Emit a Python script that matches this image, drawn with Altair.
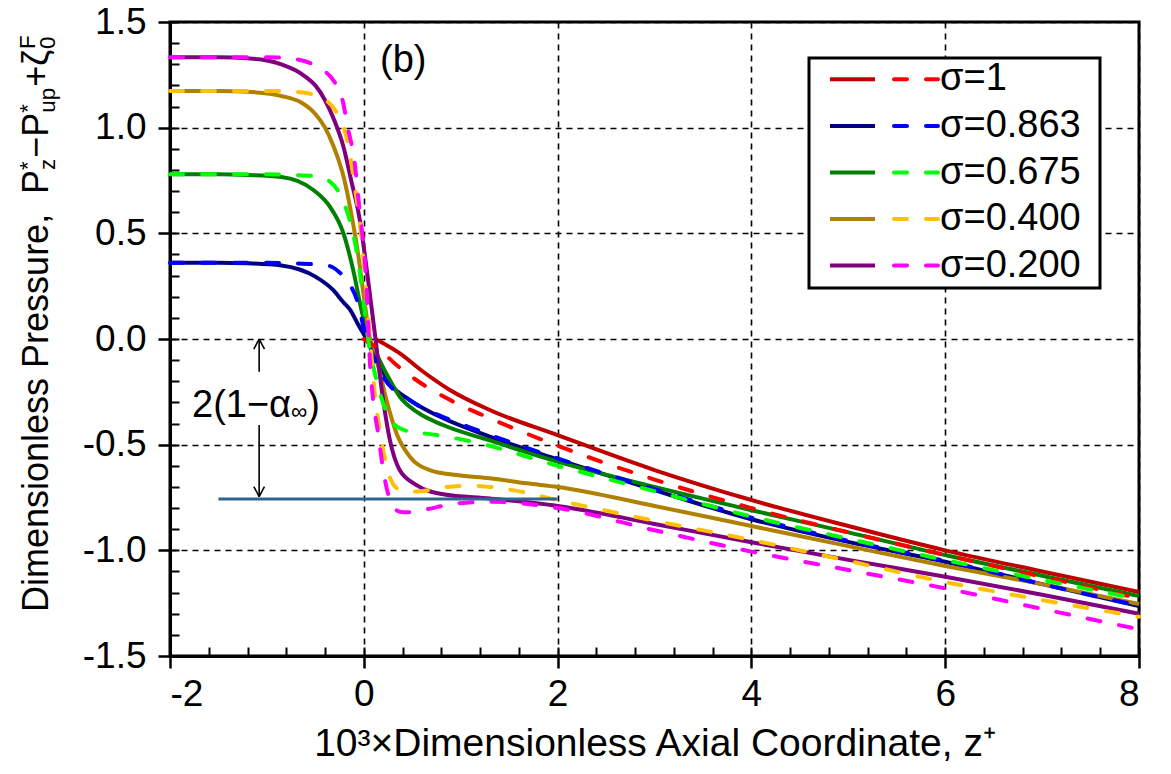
import altair as alt
import pandas as pd

# ---------------- data ----------------
sigma_labels = ["σ=1", "σ=0.863", "σ=0.675", "σ=0.400", "σ=0.200"]
solid_colors = ["#C00000", "#000080", "#008000", "#B08000", "#800080"]
dash_colors = ["#FF0000", "#0000FF", "#00FF00", "#FFC000", "#FF00FF"]

# sigma = 1
z_solid_1 = [0.12, 0.372, 0.613, 0.888, 1.3, 2.0, 3.0, 4.0, 5.0, 6.0, 7.0, 8.0]
p_solid_1 = [0.0, -0.068, -0.155, -0.241, -0.336, -0.455, -0.62, -0.762, -0.885, -1.0, -1.1, -1.197]
z_dash_1 = [0.0, 0.165, 0.337, 0.647, 0.957, 1.266, 2.0, 3.0, 4.0, 5.0, 6.0, 7.0, 8.0]
p_dash_1 = [0.0, -0.052, -0.123, -0.226, -0.304, -0.368, -0.505, -0.665, -0.80, -0.915, -1.022, -1.125, -1.227]

# sigma = 0.863
z_solid_2 = [-2.0, -1.5, -1.2, -0.85, -0.5, -0.317, -0.213, -0.144, -0.06, 0.01, 0.131, 0.268, 0.475, 0.75, 1.3,
             2.0, 3.0, 4.0, 5.0, 6.0, 7.0, 8.0]
p_solid_2 = [0.361, 0.361, 0.358, 0.348, 0.295, 0.232, 0.175, 0.14, 0.07, 0.015, -0.099, -0.21, -0.289, -0.36, -0.462,
             -0.57, -0.715, -0.853, -0.96, -1.054, -1.16, -1.264]
z_dash_2 = [-2.0, -1.0, -0.73, -0.5, -0.35, -0.25, -0.15, -0.05, 0.0, 0.062, 0.2, 0.475, 0.853, 1.163,
            2.0, 3.0, 4.0, 5.0, 6.0, 7.0, 8.0]
p_dash_2 = [0.361, 0.361, 0.358, 0.353, 0.345, 0.315, 0.263, 0.153, 0.05, -0.036, -0.178, -0.289, -0.375, -0.43,
            -0.565, -0.71, -0.845, -0.955, -1.05, -1.16, -1.262]

# sigma = 0.675
z_solid_3 = [-2.0, -1.5, -1.2, -0.85, -0.52, -0.35, -0.21, -0.11, -0.024, 0.04, 0.13, 0.234, 0.372, 0.544, 0.818,
             1.3, 2.0, 3.0, 4.0, 5.0, 6.0, 7.0, 8.0]
p_solid_3 = [0.779, 0.779, 0.776, 0.767, 0.705, 0.626, 0.5, 0.327, 0.137, 0.02, -0.07, -0.165, -0.273, -0.344, -0.407,
             -0.48, -0.58, -0.70, -0.81, -0.915, -1.022, -1.12, -1.216]
z_dash_3 = [-2.0, -1.0, -0.73, -0.5, -0.35, -0.23, -0.127, -0.059, 0.0, 0.062, 0.114, 0.2, 0.303, 0.44, 0.75, 1.163,
            2.0, 3.0, 4.0, 5.0, 6.0, 7.0, 8.0]
p_dash_3 = [0.779, 0.779, 0.776, 0.77, 0.745, 0.67, 0.53, 0.374, 0.169, -0.052, -0.162, -0.304, -0.399, -0.434, -0.454,
            -0.49, -0.60, -0.72, -0.84, -0.945, -1.046, -1.14, -1.23]

# sigma = 0.400
z_solid_4 = [-2.0, -1.5, -1.2, -0.85, -0.65, -0.5, -0.4, -0.32, -0.2, -0.13, -0.06, 0.01, 0.06, 0.15, 0.234, 0.337,
             0.475, 0.68, 0.96, 1.3, 1.68, 2.0, 3.0, 4.0, 5.0, 6.0, 7.0, 8.0]
p_solid_4 = [1.174, 1.174, 1.17, 1.15, 1.12, 1.065, 1.0, 0.92, 0.752, 0.595, 0.406, 0.169, 0.01, -0.13, -0.289,
             -0.446, -0.557, -0.62, -0.644, -0.659, -0.683, -0.70, -0.79, -0.885, -0.98, -1.074, -1.16, -1.254]
z_dash_4 = [-2.0, -1.0, -0.73, -0.55, -0.42, -0.3, -0.21, -0.144, -0.093, -0.041, 0.0, 0.04, 0.08, 0.114, 0.165,
            0.234, 0.337, 0.44, 0.6, 0.75, 1.1, 1.3, 1.54, 2.0, 3.0, 4.0, 5.0, 6.0, 7.0, 8.0]
p_dash_4 = [1.174, 1.174, 1.17, 1.16, 1.139, 1.085, 1.005, 0.879, 0.721, 0.55, 0.36, 0.14, -0.08, -0.26, -0.43,
            -0.60, -0.705, -0.723, -0.72, -0.707, -0.694, -0.70, -0.715, -0.763, -0.86, -0.951, -1.05, -1.15, -1.235,
            -1.314]

# sigma = 0.200
z_solid_5 = [-2.0, -1.5, -1.2, -1.0, -0.85, -0.7, -0.6, -0.5, -0.4, -0.3, -0.21, -0.13, -0.04, 0.03, 0.11, 0.2,
             0.27, 0.37, 0.54, 0.82, 1.3, 2.0, 3.0, 4.0, 5.0, 6.0, 7.0, 8.0]
p_solid_5 = [1.333, 1.333, 1.328, 1.318, 1.30, 1.27, 1.24, 1.2, 1.13, 1.03, 0.91, 0.75, 0.56, 0.33, 0.04, -0.29,
             -0.48, -0.62, -0.69, -0.735, -0.755, -0.79, -0.875, -0.962, -1.045, -1.125, -1.21, -1.30]
z_dash_5 = [-2.0, -1.0, -0.73, -0.55, -0.42, -0.3, -0.23, -0.16, -0.093, -0.058, -0.024, 0.01, 0.034, 0.062, 0.096,
            0.148, 0.2, 0.286, 0.37, 0.45, 0.61, 0.96, 1.3, 2.0, 3.0, 4.0, 5.0, 6.0, 7.0, 8.0]
p_dash_5 = [1.333, 1.333, 1.326, 1.305, 1.273, 1.215, 1.15, 0.99, 0.83, 0.673, 0.531, 0.374, 0.185, -0.099, -0.289,
            -0.446, -0.62, -0.778, -0.817, -0.82, -0.809, -0.778, -0.77, -0.80, -0.905, -1.006, -1.093, -1.18, -1.277,
            -1.374]

# annotation: 2(1-alpha_inf) reference line and arrows
ref_line_z = [-1.5, 2.0]
ref_line_p = -0.757
arrow_z = -1.08

# axis ticks
x_major = [-2, 0, 2, 4, 6, 8]
x_minor = [round(-2 + 0.4 * k, 1) for k in range(26)]
y_major = [-1.5, -1.0, -0.5, 0.0, 0.5, 1.0, 1.5]
y_minor = [round(-1.5 + 0.1 * k, 1) for k in range(31)]

FONT = "Liberation Sans"
FS = 38          # annotation / legend text
XTFS = 39        # x-axis title
YTFS = 36        # y-axis title
TICK_FS = 37
W, H = 969, 634

# ---------------- build tables ----------------
solid_series = [(z_solid_1, p_solid_1), (z_solid_2, p_solid_2), (z_solid_3, p_solid_3),
                (z_solid_4, p_solid_4), (z_solid_5, p_solid_5)]
dash_series = [(z_dash_1, p_dash_1), (z_dash_2, p_dash_2), (z_dash_3, p_dash_3),
               (z_dash_4, p_dash_4), (z_dash_5, p_dash_5)]
solid_keys = ["solid " + s for s in sigma_labels]
dash_keys = ["dash " + s for s in sigma_labels]


def rows(zs, ps, key):
    return [{"z": z, "p": p, "key": key, "i": i} for i, (z, p) in enumerate(zip(zs, ps))]


solid_df = pd.DataFrame([r for (zs, ps), k in zip(solid_series, solid_keys) for r in rows(zs, ps, k)])
dash_df = pd.DataFrame([r for (zs, ps), k in zip(dash_series, dash_keys) for r in rows(zs, ps, k)])

color_scale = alt.Scale(domain=solid_keys + dash_keys, range=solid_colors + dash_colors)
xscale = alt.Scale(domain=[-2, 8], nice=False, zero=False)
yscale = alt.Scale(domain=[-1.5, 1.5], nice=False, zero=False)

x_axis = alt.Axis(
    values=x_major, orient="bottom",
    labelExpr="(datum.value < 0 ? '-' : '') + format(abs(datum.value), 'd')",
    title="10³×Dimensionless Axial Coordinate, z⁺",
    tickSize=12, tickWidth=2.5, tickColor="black",
    domainColor="black", domainWidth=3,
    grid=True, gridColor="black", gridDash=[6, 5], gridWidth=1.6, gridOpacity=1,
    labelFont=FONT, labelFontSize=TICK_FS, labelColor="black", labelPadding=8,
    titleFont=FONT, titleFontSize=XTFS, titleColor="black", titleFontWeight="normal", titlePadding=12,
)
y_axis = alt.Axis(
    values=y_major, orient="left",
    labelExpr="(datum.value < 0 ? '-' : '') + format(abs(datum.value), '.1f')",
    title=None,
    tickSize=12, tickWidth=2.5, tickColor="black",
    domainColor="black", domainWidth=3,
    grid=True, gridColor="black", gridDash=[6, 5], gridWidth=1.6, gridOpacity=1,
    labelFont=FONT, labelFontSize=TICK_FS, labelColor="black", labelPadding=12,
)
x_inner = alt.Axis(values=x_minor, orient="bottom", offset=-9, tickSize=9, tickWidth=2, tickColor="black",
                   domain=False, labels=False, grid=False, title=None)
y_inner = alt.Axis(values=y_minor, orient="left", offset=-9, tickSize=9, tickWidth=2, tickColor="black",
                   domain=False, labels=False, grid=False, title=None)

solid = alt.Chart(solid_df).mark_line(interpolate="monotone", strokeWidth=4).encode(
    x=alt.X("z:Q", scale=xscale, axis=x_axis),
    y=alt.Y("p:Q", scale=yscale, axis=y_axis),
    color=alt.Color("key:N", scale=color_scale, legend=None),
    order=alt.Order("i:Q"),
)
dashed = alt.Chart(dash_df).mark_line(interpolate="monotone", strokeWidth=4, strokeDash=[13, 19],
                                      strokeCap="round").encode(
    x=alt.X("z:Q", scale=xscale, axis=None),
    y=alt.Y("p:Q", scale=yscale, axis=None),
    color=alt.Color("key:N", scale=color_scale, legend=None),
    order=alt.Order("i:Q"),
)

tick_df = pd.DataFrame({"z": [-2, 8], "p": [-1.5, 1.5]})
inner_ticks = alt.Chart(tick_df).mark_point(opacity=0).encode(
    x=alt.X("z:Q", scale=xscale, axis=x_inner),
    y=alt.Y("p:Q", scale=yscale, axis=y_inner),
)

# reference line
ref_df = pd.DataFrame({"x1": [ref_line_z[0]], "x2": [ref_line_z[1]], "y1": [ref_line_p]})
ref_rule = alt.Chart(ref_df).mark_rule(color="#2F6593", strokeWidth=3).encode(
    x=alt.X("x1:Q", scale=xscale, axis=None), x2="x2:Q",
    y=alt.Y("y1:Q", scale=yscale, axis=None),
)

# arrows (shaft + open head)
hw, hh = 0.055, 0.048
arr_df = pd.DataFrame({
    "x1": [arrow_z, arrow_z, arrow_z, arrow_z, arrow_z, arrow_z],
    "x2": [arrow_z, arrow_z - hw, arrow_z + hw, arrow_z, arrow_z - hw, arrow_z + hw],
    "y1": [-0.155, 0.0, 0.0, -0.407, ref_line_p + 0.011, ref_line_p + 0.011],
    "y2": [0.0, -hh, -hh, ref_line_p + 0.011, ref_line_p + 0.011 + hh, ref_line_p + 0.011 + hh],
})
arrows = alt.Chart(arr_df).mark_rule(color="black", strokeWidth=1.6).encode(
    x=alt.X("x1:Q", scale=xscale, axis=None), x2="x2:Q",
    y=alt.Y("y1:Q", scale=yscale, axis=None), y2="y2:Q",
)

# text pieces (pixel positions relative to plot area)
aw = {"D": .722, "i": .222, "m": .833, "e": .556, "n": .556, "s": .5, "o": .556, "l": .222, " ": .278,
      "P": .667, "r": .333, "u": .556, ",": .278, "−": .584, "+": .584, "*": .389, "z": .5, "p": .556,
      "ζ": .47, "F": .611, "0": .556, "2": .556, "(": .333, "1": .556, "α": .578, "∞": .713, ")": .333}


def tw(s, size):
    return sum(aw.get(c, .556) for c in s) * size


# y-axis title, rotated, reading upward
YF = YTFS
sub = 0.62 * YF
pieces = []  # (text, size, along-offset, baseline shift)
s = 0.0
pieces.append(("Dimensionless Pressure,", YF, s, 0)); s += tw("Dimensionless Pressure,", YF) + tw("  ", YF)
pieces.append(("P", YF, s, 0)); s += tw("P", YF)
pieces.append(("*", sub, s, -0.36 * YF)); pieces.append(("z", sub, s, 0.2 * YF)); s += tw("z", sub) + 1
pieces.append(("−", YF, s, 0)); s += tw("−", YF)
pieces.append(("P", YF, s, 0)); s += tw("P", YF)
pieces.append(("*", sub, s, -0.36 * YF)); pieces.append(("up", sub, s, 0.2 * YF)); s += tw("up", sub) + 1
pieces.append(("+", YF, s, 0)); s += tw("+", YF)
pieces.append(("ζ", YF, s, 0)); s += tw("ζ", YF)
pieces.append(("F", sub, s, -0.36 * YF)); pieces.append(("0", sub, s, 0.2 * YF)); s += tw("F", sub)
start_y = 590
base_x = -122
ytitle_df = pd.DataFrame({
    "t": [p[0] for p in pieces],
    "fs": [p[1] for p in pieces],
    "px": [base_x + p[3] for p in pieces],
    "py": [start_y - p[2] for p in pieces],
})
ytitle = alt.Chart(ytitle_df).mark_text(align="left", baseline="alphabetic", angle=270, font=FONT,
                                        color="black").encode(
    x=alt.X("px:Q", scale=None, axis=None), y=alt.Y("py:Q", scale=None, axis=None),
    text="t:N", size=alt.Size("fs:Q", scale=None, legend=None),
)

# 2(1-alpha_inf) label and (b)
lx, ly = 22, 395
ann_df = pd.DataFrame({
    "t": ["2(1−α", "∞", ")", "(b)"],
    "fs": [FS, 0.6 * FS, FS, FS],
    "px": [lx, lx + tw("2(1−α", FS), lx + tw("2(1−α", FS) + tw("∞", 0.6 * FS), 210],
    "py": [ly, ly + 2, ly, 50],
})
ann = alt.Chart(ann_df).mark_text(align="left", baseline="alphabetic", font=FONT, color="black").encode(
    x=alt.X("px:Q", scale=None, axis=None), y=alt.Y("py:Q", scale=None, axis=None),
    text="t:N", size=alt.Size("fs:Q", scale=None, legend=None),
)

# legend box
box_df = pd.DataFrame({"x1": [639], "x2": [930], "y1": [36], "y2": [266]})
box = alt.Chart(box_df).mark_rect(fill="white", stroke="black", strokeWidth=3).encode(
    x=alt.X("x1:Q", scale=None, axis=None), x2="x2:Q",
    y=alt.Y("y1:Q", scale=None, axis=None), y2="y2:Q",
)
row_y = [57.3, 104, 150.5, 197, 243.5]
leg_solid_df = pd.DataFrame({"x1": [660] * 5, "x2": [705] * 5, "y1": row_y, "c": solid_colors})
leg_dash_df = pd.DataFrame({"x1": [724] * 5, "x2": [768] * 5, "y1": row_y, "c": dash_colors})
leg_solid = alt.Chart(leg_solid_df).mark_rule(strokeWidth=4).encode(
    x=alt.X("x1:Q", scale=None, axis=None), x2="x2:Q",
    y=alt.Y("y1:Q", scale=None, axis=None),
    color=alt.Color("c:N", scale=None, legend=None),
)
leg_dash = alt.Chart(leg_dash_df).mark_rule(strokeWidth=4, strokeDash=[13, 19], strokeCap="round").encode(
    x=alt.X("x1:Q", scale=None, axis=None), x2="x2:Q",
    y=alt.Y("y1:Q", scale=None, axis=None),
    color=alt.Color("c:N", scale=None, legend=None),
)
leg_text_df = pd.DataFrame({"t": sigma_labels, "px": [770] * 5, "py": row_y})
leg_text = alt.Chart(leg_text_df).mark_text(align="left", baseline="middle", font=FONT, fontSize=FS,
                                            color="black").encode(
    x=alt.X("px:Q", scale=None, axis=None), y=alt.Y("py:Q", scale=None, axis=None), text="t:N",
)

chart = alt.layer(
    solid, inner_ticks, dashed, ref_rule, arrows, ann, ytitle, box, leg_solid, leg_dash, leg_text
).resolve_axis(x="independent", y="independent").properties(
    width=W, height=H,
    padding={"left": 170, "top": 22, "right": 32, "bottom": 118},
    autosize=alt.AutoSizeParams(type="none"),
    background="white",
).configure_view(stroke="black", strokeWidth=3)

chart.save("out.html", embed_options={"renderer": "svg", "actions": False})
